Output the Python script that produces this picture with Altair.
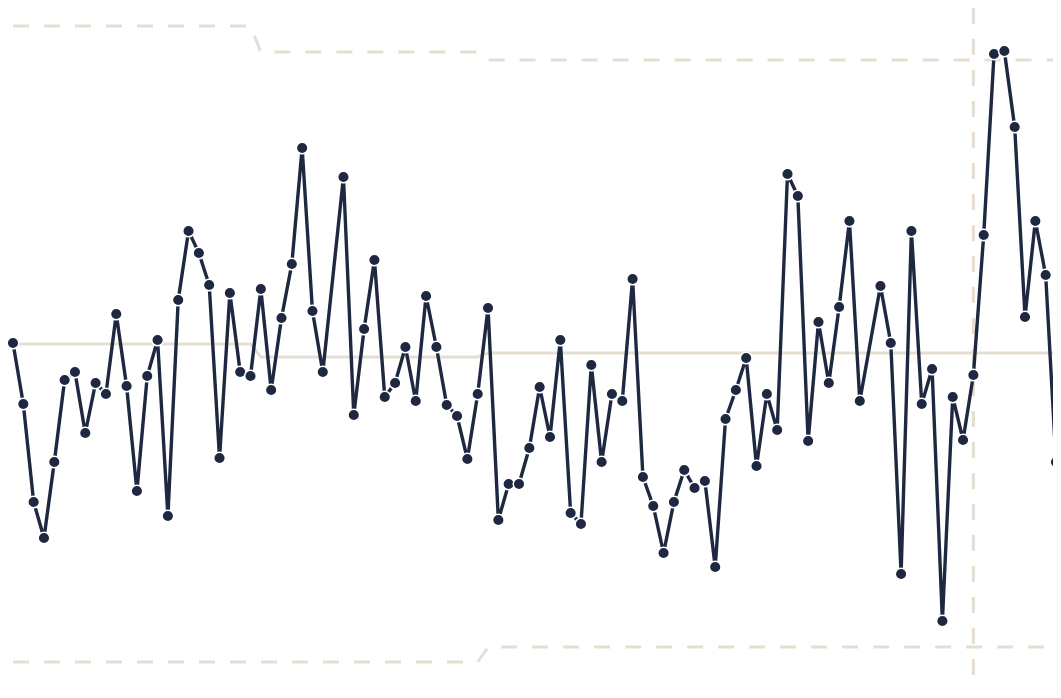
import altair as alt
import pandas as pd

# x positions (sample index); indices 31 and 83 have no observation
idx = [0, 1, 2, 3, 4, 5, 6, 7, 8, 9, 10, 11, 12, 13, 14, 15, 16, 17, 18, 19,
       20, 21, 22, 23, 24, 25, 26, 27, 28, 29, 30, 32, 33, 34, 35, 36, 37, 38, 39, 40,
       41, 42, 43, 44, 45, 46, 47, 48, 49, 50, 51, 52, 53, 54, 55, 56, 57, 58, 59, 60,
       61, 62, 63, 64, 65, 66, 67, 68, 69, 70, 71, 72, 73, 74, 75, 76, 77, 78, 79, 80,
       81, 82, 84, 85, 86, 87, 88, 89, 90, 91, 92, 93, 94, 95, 96, 97, 98, 99, 100, 101]

values = [35.5, 29.4, 19.6, 16.0, 23.6, 31.8, 32.6, 26.5, 31.5, 30.4,
          38.4, 31.2, 20.7, 32.2, 35.8, 18.2, 39.8, 46.7, 44.5, 41.3,
          24.0, 40.5, 32.6, 32.2, 40.9, 30.8, 38.0, 43.4, 55.0, 38.7,
          32.6, 52.1, 28.3, 36.9, 43.8, 30.1, 31.5, 35.1, 29.7, 40.2,
          35.1, 29.3, 28.2, 23.9, 30.4, 39.0, 17.8, 21.4, 21.4, 25.0,
          31.1, 26.1, 35.8, 18.5, 17.4, 33.3, 23.6, 30.4, 29.7, 41.9,
          22.1, 19.2, 14.5, 19.6, 22.8, 21.0, 21.7, 13.1, 27.9, 30.8,
          34.0, 23.2, 30.4, 26.8, 52.4, 50.2, 25.7, 37.6, 31.5, 39.1,
          47.7, 29.7, 41.2, 35.5, 12.4, 46.7, 29.4, 32.9, 7.7, 30.1,
          25.8, 32.3, 46.3, 64.4, 64.7, 57.1, 38.1, 47.7, 42.3, 23.6]

# control-limit phases: (first index of phase, UCL, CL, LCL)
phase_start = [0, 24, 46]
phase_ucl = [67.2, 64.6, 63.8]
phase_cl = [35.4, 34.1, 34.5]
phase_lcl = [3.6, 3.6, 5.1]

marker_idx = [93]

def phase_of(i):
    p = 0
    for k, s in enumerate(phase_start):
        if i >= s:
            p = k
    return p

df = pd.DataFrame({"idx": idx, "value": values})
df["ucl"] = [phase_ucl[phase_of(i)] for i in idx]
df["cl"] = [phase_cl[phase_of(i)] for i in idx]
df["lcl"] = [phase_lcl[phase_of(i)] for i in idx]

NAVY = "#1e2841"
BEIGE = "#e6ded2"

xs = alt.Scale(domain=[-0.484, 100.71], nice=False, zero=False)
ys = alt.Scale(domain=[0.8, 69], nice=False, zero=False)

base = alt.Chart(df)
X = alt.X("idx:Q", scale=xs, axis=None)

ucl = base.mark_line(color=BEIGE, strokeWidth=3, strokeDash=[16, 15]).encode(
    x=X, y=alt.Y("ucl:Q", scale=ys, axis=None))
lcl = base.mark_line(color=BEIGE, strokeWidth=3, strokeDash=[16, 15]).encode(
    x=X, y=alt.Y("lcl:Q", scale=ys, axis=None))
cl = base.mark_line(color=BEIGE, strokeWidth=3).encode(
    x=X, y=alt.Y("cl:Q", scale=ys, axis=None))

vline = alt.Chart(pd.DataFrame({"idx": marker_idx})).mark_rule(
    color=BEIGE, strokeWidth=3, strokeDash=[16, 15]).encode(x=X)

line = base.mark_line(color=NAVY, strokeWidth=3.4).encode(
    x=X, y=alt.Y("value:Q", scale=ys, axis=None))
pts = base.mark_point(filled=True, shape="circle", size=135, color=NAVY, opacity=1,
                      stroke="white", strokeWidth=1.5).encode(
    x=X, y=alt.Y("value:Q", scale=ys, axis=None))

chart = alt.layer(ucl, lcl, cl, vline, line, pts).properties(
    width=1045, height=682,
    autosize=alt.AutoSizeParams(type="none"),
    padding=0,
).configure(background="white").configure_view(strokeWidth=0, stroke="transparent")

chart.save("out.html", embed_options={"renderer": "svg", "actions": False})
